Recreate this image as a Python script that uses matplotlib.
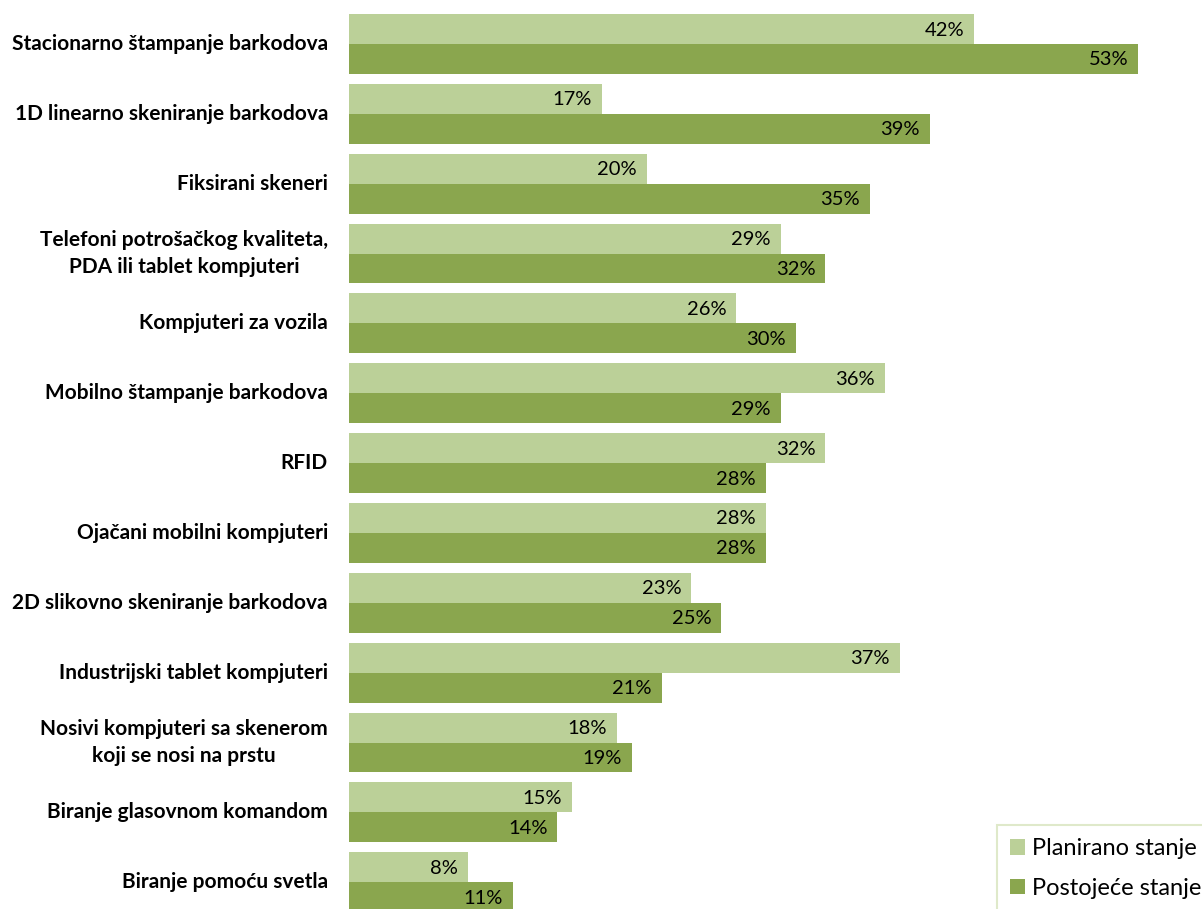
import matplotlib.pyplot as plt
import numpy as np

plt.rcParams['font.family'] = ['Lato', 'DejaVu Sans']

categories = [
    "Stacionarno štampanje barkodova",
    "1D linearno skeniranje barkodova",
    "Fiksirani skeneri",
    "Telefoni potrošačkog kvaliteta,\nPDA ili tablet kompjuteri",
    "Kompjuteri za vozila",
    "Mobilno štampanje barkodova",
    "RFID",
    "Ojačani mobilni kompjuteri",
    "2D slikovno skeniranje barkodova",
    "Industrijski tablet kompjuteri",
    "Nosivi kompjuteri sa skenerom\nkoji se nosi na prstu",
    "Biranje glasovnom komandom",
    "Biranje pomoću svetla",
]
planirano = [42, 17, 20, 29, 26, 36, 32, 28, 23, 37, 18, 15, 8]
postojece = [53, 39, 35, 32, 30, 29, 28, 28, 25, 21, 19, 14, 11]

light = "#bbd098"
dark = "#8aa64e"

W, H = 1202, 909
fig = plt.figure(figsize=(W / 100, H / 100), dpi=100)
left_px = 349
ax = fig.add_axes([left_px / W, 0, (W - left_px) / W, 1])

y = np.arange(len(categories))
h = 30 / 70
b1 = ax.barh(y - h / 2, planirano, height=h, color=light, label="Planirano stanje")
b2 = ax.barh(y + h / 2, postojece, height=h, color=dark, label="Postojeće stanje")

for bars, vals in ((b1, planirano), (b2, postojece)):
    for bar, v in zip(bars, vals):
        ax.annotate(f"{v}%", xy=(bar.get_width(), bar.get_y() + bar.get_height() / 2),
                    xytext=(-10, -1), textcoords="offset pixels",
                    ha="right", va="center", fontsize=14.5, color="black")

px_per_unit = 14.89
ax.set_xlim(0, (W - left_px) / px_per_unit)
ax.set_ylim((H - 44) / 69.85, -44 / 69.85)
ax.axis("off")

for i, cat in enumerate(categories):
    ax.annotate(cat, xy=(0, i), xytext=(-21, 0), textcoords="offset pixels",
                ha="right", va="center", multialignment="center",
                fontsize=15, fontweight="bold", linespacing=1.4)

leg = fig.legend(handles=[b1, b2], loc="upper left",
                 bbox_to_anchor=(997 / W, 1 - 825 / H), borderaxespad=0,
                 fontsize=17, frameon=True, fancybox=False,
                 handlelength=0.65, handleheight=0.65, handletextpad=0.3,
                 labelspacing=0.8, borderpad=0.55)
leg.get_frame().set_edgecolor("#d7e4bd")
leg.get_frame().set_linewidth(1.5)

fig.savefig("out.png", dpi=100)
